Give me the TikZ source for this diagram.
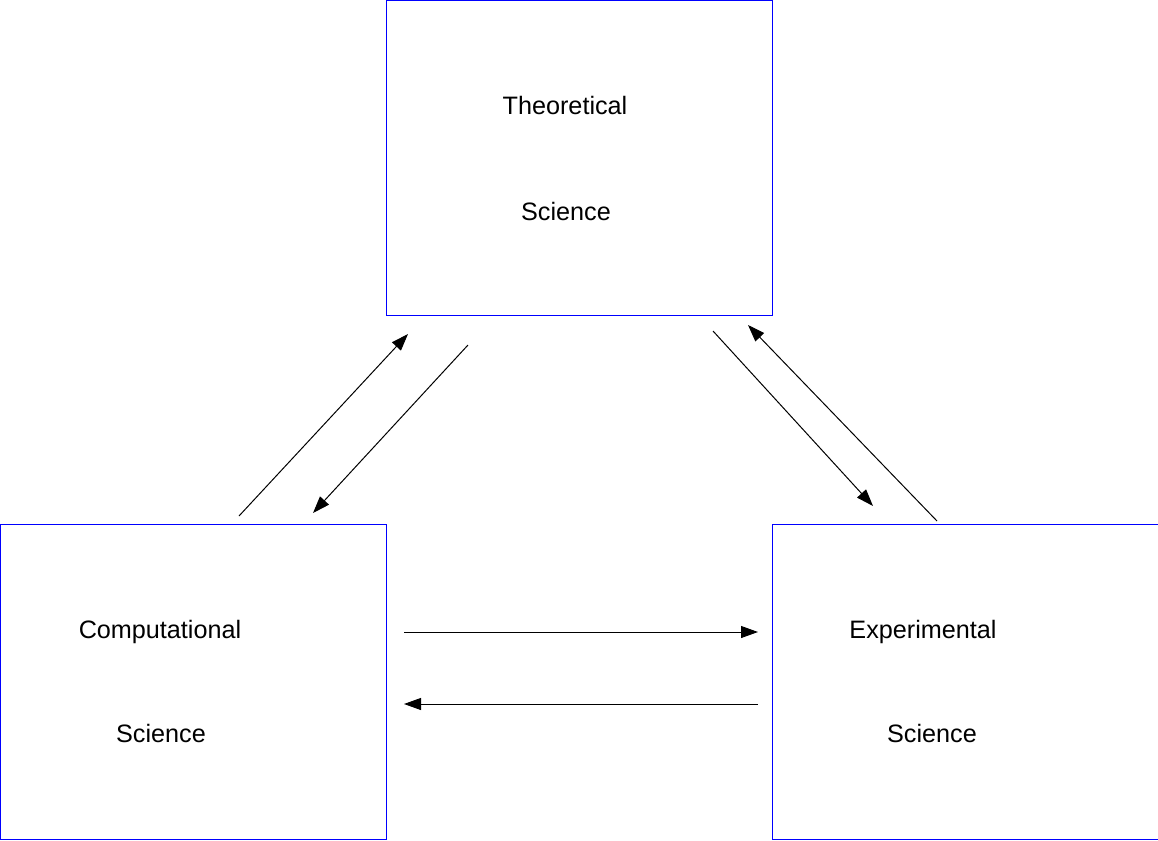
\documentclass[tikz,border=0pt]{standalone}
\usepackage{fontspec}
\setmainfont{Liberation Sans}
\usetikzlibrary{
    arrows.meta,
    positioning,
    calc
}
\tikzset{
  field/.style = {
      draw=blue,
      line width=0.6pt,
      rectangle,
      minimum width=193pt,
      minimum height=157.5pt,
      inner sep=0pt,
      anchor=north west
  },
  caption/.style = {
      font=\fontsize{12.6}{15}\selectfont,
      inner sep=0pt,
      anchor=base
  },
  flow/.style = {
      line width=0.5pt,
      -{Triangle[length=8.5pt,width=6pt]}
  }
}

\begin{document}
\begin{tikzpicture}[x=0.5pt,y=-0.5pt]
    \useasboundingbox (0,0) rectangle (1158,841);
    % Boxes
    \node[field] (theory) at (386,0) {};
    \node[field] (comp) at (0,524) {};
    \node[field] (exper) at (772,524) {};
    % Labels
    \node[caption] (theory1) at (565,114) {Theoretical};
    \node[caption] (theory2) at (566,220) {Science};
    \node[caption] (comp1) at (160,638) {Computational};
    \node[caption] (comp2) at (161,742) {Science};
    \node[caption] (exper1) at (923,638) {Experimental};
    \node[caption] (exper2) at (932,742) {Science};
    % Arrow ends
    \coordinate (ct0) at (239,516);
    \coordinate (ct1) at (408,334);
    \coordinate (tc0) at (468,345);
    \coordinate (tc1) at (313,513);
    \coordinate (te0) at (713,331);
    \coordinate (te1) at (873,506);
    \coordinate (et0) at (937,521);
    \coordinate (et1) at (748,325);
    \coordinate (ce0) at (404,632);
    \coordinate (ce1) at (758,632);
    \coordinate (ec0) at (758,704);
    \coordinate (ec1) at (404,704);
    % Arrows
    \draw[flow] (ct0) -- (ct1);
    \draw[flow] (tc0) -- (tc1);
    \draw[flow] (te0) -- (te1);
    \draw[flow] (et0) -- (et1);
    \draw[flow] (ce0) -- (ce1);
    \draw[flow] (ec0) -- (ec1);
\end{tikzpicture}
\end{document}
